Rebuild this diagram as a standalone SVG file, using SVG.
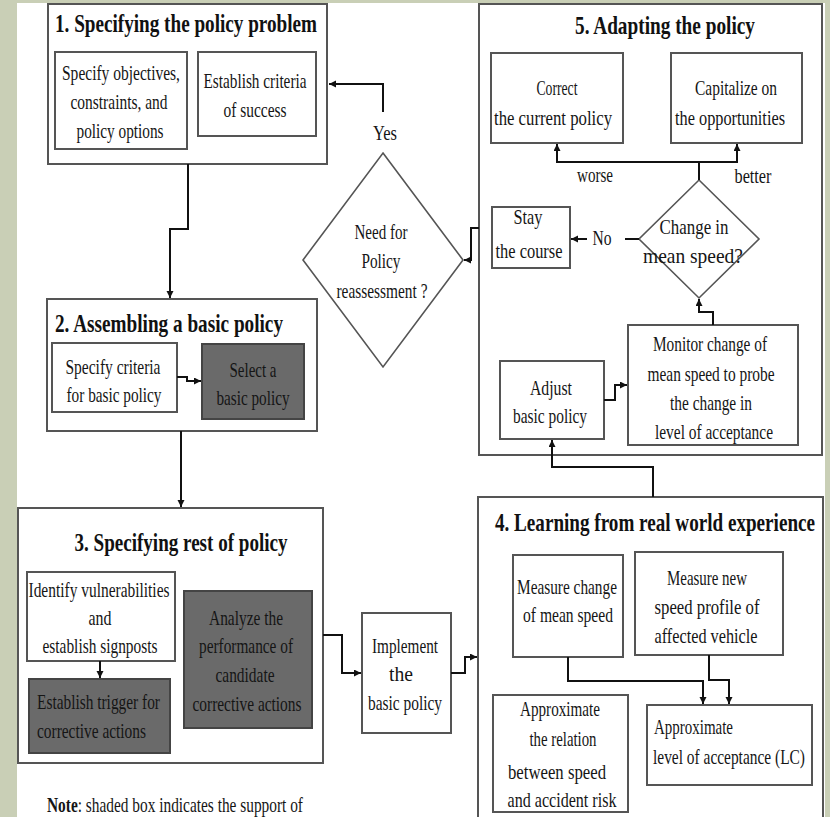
<svg xmlns="http://www.w3.org/2000/svg" width="830" height="817" viewBox="0 0 830 817">
<style>
.box{fill:#fff;stroke:#555;stroke-width:2}
.sh{fill:#6a6a6a;stroke:#444;stroke-width:2}
.dia{fill:#fff;stroke:#555;stroke-width:1.6}
.t{font-family:"Liberation Serif","Times New Roman",serif;font-size:21px;fill:#151515;text-anchor:middle}
.l{text-anchor:start}
.h{font-family:"Liberation Serif","Times New Roman",serif;font-size:25px;font-weight:bold;fill:#111;text-anchor:middle}
.c{fill:none;stroke:#111;stroke-width:2}
.a{marker-end:url(#ah)}
</style>
<defs>
<marker id="ah" markerUnits="userSpaceOnUse" markerWidth="8" markerHeight="8" refX="7" refY="3.5" orient="auto"><path d="M0,0 L7,3.5 L0,7 z" fill="#111"/></marker>
</defs>
<rect x="0" y="0" width="830" height="817" fill="#c9cfb6"/>
<rect x="17" y="3" width="808" height="814" fill="#fff"/>

<g id="box1">
<rect class="box" x="48" y="4" width="279" height="160"/>
<text class="h" x="186" y="32" textLength="262" lengthAdjust="spacingAndGlyphs">1. Specifying the policy problem</text>
</g>
<g id="objectives">
<rect class="box" x="55" y="52" width="132" height="97"/>
<text class="t" x="121" y="80" textLength="118" lengthAdjust="spacingAndGlyphs">Specify objectives,</text>
<text class="t" x="119" y="109" textLength="97" lengthAdjust="spacingAndGlyphs">constraints, and</text>
<text class="t" x="120" y="138" textLength="87" lengthAdjust="spacingAndGlyphs">policy options</text>
</g>
<g id="criteria">
<rect class="box" x="198" y="52" width="118" height="84"/>
<text class="t" x="255" y="88" textLength="103" lengthAdjust="spacingAndGlyphs">Establish criteria</text>
<text class="t" x="255" y="117" textLength="63" lengthAdjust="spacingAndGlyphs">of success</text>
</g>
<g id="reassess">
<polygon class="dia" points="383,153 463,260 383,367 303,260"/>
<text class="t" x="381" y="239" textLength="53" lengthAdjust="spacingAndGlyphs">Need for</text>
<text class="t" x="381" y="268" textLength="39" lengthAdjust="spacingAndGlyphs">Policy</text>
<text class="t" x="382" y="298" textLength="91" lengthAdjust="spacingAndGlyphs">reassessment ?</text>
</g>

<g id="box2">
<rect class="box" x="47" y="299" width="270" height="132"/>
<text class="h" x="169" y="332" textLength="228" lengthAdjust="spacingAndGlyphs">2. Assembling a basic policy</text>
</g>
<g id="specify-criteria">
<rect class="box" x="52" y="343" width="125" height="69"/>
<text class="t" x="113" y="374" textLength="95" lengthAdjust="spacingAndGlyphs">Specify criteria</text>
<text class="t" x="114" y="402" textLength="95" lengthAdjust="spacingAndGlyphs">for basic policy</text>
</g>
<g id="select-basic">
<rect class="sh" x="202" y="344" width="102" height="75"/>
<text class="t" x="253" y="377" textLength="47" lengthAdjust="spacingAndGlyphs">Select a</text>
<text class="t" x="253" y="405" textLength="73" lengthAdjust="spacingAndGlyphs">basic policy</text>
</g>

<g id="box3">
<rect class="box" x="18" y="508" width="305" height="255"/>
<text class="h" x="181" y="551" textLength="213" lengthAdjust="spacingAndGlyphs">3. Specifying rest of policy</text>
</g>
<g id="vulnerabilities">
<rect class="box" x="27" y="572" width="148" height="89"/>
<text class="t" x="99" y="597" textLength="141" lengthAdjust="spacingAndGlyphs">Identify vulnerabilities</text>
<text class="t" x="100" y="625" textLength="23" lengthAdjust="spacingAndGlyphs">and</text>
<text class="t" x="100" y="653" textLength="115" lengthAdjust="spacingAndGlyphs">establish signposts</text>
</g>
<g id="trigger">
<rect class="sh" x="29" y="679" width="141" height="74"/>
<text class="t l" x="37" y="709" textLength="123" lengthAdjust="spacingAndGlyphs">Establish trigger for</text>
<text class="t l" x="37" y="738" textLength="109" lengthAdjust="spacingAndGlyphs">corrective actions</text>
</g>
<g id="analyze">
<rect class="sh" x="184" y="591" width="128" height="137"/>
<text class="t" x="246" y="625" textLength="74" lengthAdjust="spacingAndGlyphs">Analyze the</text>
<text class="t" x="246" y="653" textLength="94" lengthAdjust="spacingAndGlyphs">performance of</text>
<text class="t" x="245" y="682" textLength="59" lengthAdjust="spacingAndGlyphs">candidate</text>
<text class="t" x="247" y="711" textLength="109" lengthAdjust="spacingAndGlyphs">corrective actions</text>
</g>
<g id="implement">
<rect class="box" x="362" y="613" width="89" height="120"/>
<text class="t" x="405" y="653" textLength="66" lengthAdjust="spacingAndGlyphs">Implement</text>
<text class="t" x="401" y="681" textLength="24" lengthAdjust="spacingAndGlyphs">the</text>
<text class="t" x="405" y="710" textLength="74" lengthAdjust="spacingAndGlyphs">basic policy</text>
</g>
<g id="note">
<text class="t l" x="47" y="812" textLength="256" lengthAdjust="spacingAndGlyphs"><tspan font-weight="bold">Note</tspan>: shaded box indicates the support of</text>
</g>

<g id="box4">
<path class="box" d="M478,818 V497 H823 V818"/>
<text class="h" x="655" y="531" textLength="320" lengthAdjust="spacingAndGlyphs">4. Learning from real world experience</text>
</g>
<g id="measure-change">
<rect class="box" x="513" y="555" width="110" height="102"/>
<text class="t" x="567" y="594" textLength="100" lengthAdjust="spacingAndGlyphs">Measure change</text>
<text class="t" x="568" y="622" textLength="90" lengthAdjust="spacingAndGlyphs">of mean speed</text>
</g>
<g id="measure-new">
<rect class="box" x="635" y="552" width="148" height="103"/>
<text class="t" x="707" y="585" textLength="80" lengthAdjust="spacingAndGlyphs">Measure new</text>
<text class="t" x="707" y="614" textLength="105" lengthAdjust="spacingAndGlyphs">speed profile of</text>
<text class="t" x="706" y="643" textLength="103" lengthAdjust="spacingAndGlyphs">affected vehicle</text>
</g>
<g id="approx-relation">
<rect class="box" x="493" y="695" width="135" height="117"/>
<text class="t" x="560" y="716" textLength="80" lengthAdjust="spacingAndGlyphs">Approximate</text>
<text class="t" x="563" y="746" textLength="67" lengthAdjust="spacingAndGlyphs">the relation</text>
<text class="t" x="557" y="779" textLength="98" lengthAdjust="spacingAndGlyphs">between speed</text>
<text class="t" x="562" y="807" textLength="109" lengthAdjust="spacingAndGlyphs">and accident risk</text>
</g>
<g id="approx-lc">
<rect class="box" x="647" y="705" width="165" height="80"/>
<text class="t l" x="654" y="734" textLength="79" lengthAdjust="spacingAndGlyphs">Approximate</text>
<text class="t l" x="653" y="764" textLength="152" lengthAdjust="spacingAndGlyphs">level of acceptance (LC)</text>
</g>

<g id="box5">
<rect class="box" x="479" y="4" width="343" height="451"/>
<text class="h" x="665" y="34" textLength="180" lengthAdjust="spacingAndGlyphs">5. Adapting the policy</text>
</g>
<g id="correct">
<rect class="box" x="491" y="53" width="132" height="90"/>
<text class="t" x="557" y="95" textLength="41" lengthAdjust="spacingAndGlyphs">Correct</text>
<text class="t" x="553" y="125" textLength="118" lengthAdjust="spacingAndGlyphs">the current policy</text>
</g>
<g id="capitalize">
<rect class="box" x="671" y="53" width="131" height="90"/>
<text class="t" x="736" y="95" textLength="82" lengthAdjust="spacingAndGlyphs">Capitalize on</text>
<text class="t" x="730" y="125" textLength="110" lengthAdjust="spacingAndGlyphs">the opportunities</text>
</g>
<g id="change-speed">
<polygon class="dia" points="699,180 759,239 699,298 639,239"/>
<text class="t" x="694" y="234" textLength="69" lengthAdjust="spacingAndGlyphs">Change in</text>
<text class="t" x="693" y="263" textLength="100" lengthAdjust="spacingAndGlyphs">mean speed?</text>
</g>
<g id="stay">
<rect class="box" x="492" y="207" width="78" height="61"/>
<text class="t" x="528" y="224" textLength="29" lengthAdjust="spacingAndGlyphs">Stay</text>
<text class="t" x="529" y="258" textLength="67" lengthAdjust="spacingAndGlyphs">the course</text>
</g>
<g id="monitor">
<rect class="box" x="628" y="325" width="170" height="120"/>
<text class="t" x="710" y="351" textLength="114" lengthAdjust="spacingAndGlyphs">Monitor change of</text>
<text class="t" x="711" y="381" textLength="127" lengthAdjust="spacingAndGlyphs">mean speed to probe</text>
<text class="t" x="711" y="410" textLength="82" lengthAdjust="spacingAndGlyphs">the change in</text>
<text class="t" x="714" y="439" textLength="118" lengthAdjust="spacingAndGlyphs">level of acceptance</text>
</g>
<g id="adjust">
<rect class="box" x="500" y="361" width="104" height="78"/>
<text class="t" x="551" y="395" textLength="42" lengthAdjust="spacingAndGlyphs">Adjust</text>
<text class="t" x="550" y="423" textLength="74" lengthAdjust="spacingAndGlyphs">basic policy</text>
</g>

<g id="connectors">
<path class="c a" d="M383,112 V84 H329"/>
<path class="c a" d="M188,164 V229 H170 V298"/>
<path class="c a" d="M177,377 H187 V381 H201"/>
<path class="c a" d="M181,431 V507"/>
<path class="c a" d="M100,661 V678"/>
<path class="c a" d="M323,635 H342 V673 H361"/>
<path class="c a" d="M451,673 H465 V657 H477"/>
<path class="c a" d="M568,657 V681 H703 V704"/>
<path class="c a" d="M709,655 V680 H729 V704"/>
<path class="c a" d="M653,497 V467 H552 V440"/>
<path class="c a" d="M699,180 V162 H557 V144"/>
<path class="c a" d="M699,162 H737 V144"/>
<path class="c" d="M639,239 H625"/>
<path class="c a" d="M587,239 H571"/>
<path class="c a" d="M479,228 H471 V260 H464"/>
<path class="c a" d="M713,325 V312 H699 V299"/>
<path class="c a" d="M604,400 H615 V385 H627"/>
<text class="t" x="385" y="140" textLength="24" lengthAdjust="spacingAndGlyphs">Yes</text>
<text class="t" x="595" y="182" textLength="36" lengthAdjust="spacingAndGlyphs">worse</text>
<text class="t" x="753" y="183" textLength="37" lengthAdjust="spacingAndGlyphs">better</text>
<text class="t" x="602" y="245" textLength="19" lengthAdjust="spacingAndGlyphs">No</text>
</g>
</svg>
